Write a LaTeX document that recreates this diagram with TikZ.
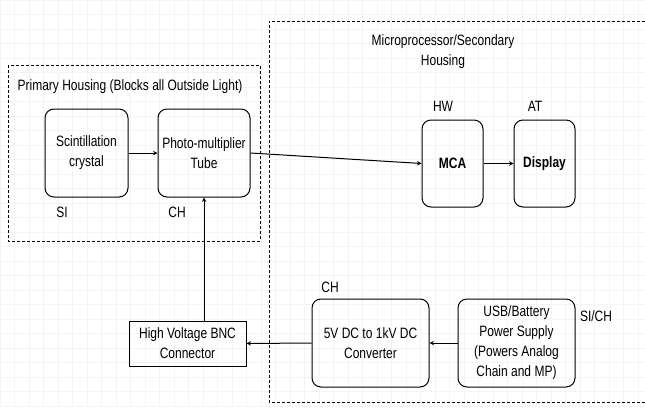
\documentclass[tikz,border=0pt]{standalone}
\usepackage{fontspec}
\setmainfont{Liberation Sans}[FakeStretch=0.8]
\usepackage{xcolor}
\usetikzlibrary{arrows}
\definecolor{gridgray}{gray}{0.955}
\tikzstyle{arrow} = [line width=1pt,->,>=stealth]
\tikzstyle{block} = [draw, line width=1pt, rounded corners=9pt, align=center, inner sep=2pt]
\tikzstyle{housing} = [draw, thin, densely dashed]
\tikzstyle{tag} = [inner sep=0pt, align=center]

\begin{document}
\begin{tikzpicture}[x=1pt,y=-1pt,font=\fontsize{15}{20}\selectfont]
          % basics
          \useasboundingbox (0,0) rectangle (645,407);
          \fill[white] (0,0) rectangle (645,407);
          \draw[gridgray, step=14.5pt] (0,0) grid (645,407);
          % housings
          \draw[housing] (8,65) rectangle (260,241);
          \draw[housing] (645,21) -- (269,21) -- (269,402) -- (645,402);
          \node[tag] (primlabel) at (130,87) {Primary Housing (Blocks all Outside Light)};
          \node[tag] (seclabel) at (443,52) {Microprocessor/Secondary\\Housing};
          % blocks
          \node[block, minimum width=83pt, minimum height=88pt] (crystal) at (86.5,153) {Scintillation\\crystal};
          \node[block, minimum width=92pt, minimum height=88pt] (pmt) at (204,153) {Photo-multiplier\\Tube};
          \node[block, minimum width=61pt, minimum height=87pt, font=\fontsize{15}{20}\selectfont\bfseries] (mca) at (452.5,163.5) {MCA};
          \node[block, minimum width=61pt, minimum height=87pt, font=\fontsize{15}{20}\selectfont\bfseries] (disp) at (544.5,163.5) {Display};
          \node[block, rounded corners=0pt, minimum width=117pt, minimum height=45pt] (bnc) at (187.5,343.5) {High Voltage BNC\\Connector};
          \node[block, minimum width=117pt, minimum height=88pt] (conv) at (370.5,343) {5V DC to 1kV DC\\Converter};
          \node[block, minimum width=117pt, minimum height=88pt] (usb) at (516.5,343) {USB/Battery\\Power Supply\\(Powers Analog\\Chain and MP)};
          % tags
          \node[tag] (sitag) at (62,212) {SI};
          \node[tag] (chtag) at (177,212) {CH};
          \node[tag] (hwtag) at (443,106) {HW};
          \node[tag] (attag) at (535,106) {AT};
          \node[tag] (convtag) at (330,287) {CH};
          \node[tag] (usbtag) at (596,316) {SI/CH};
          % signal chain
          \draw[arrow] (crystal.east) -- (pmt.west);
          \draw[arrow] (pmt.east) -- (mca.west);
          \draw[arrow] (mca.east) -- (disp.west);
          % power
          \draw[arrow] (usb.west) -- (conv.east);
          \draw[arrow] (conv.west) -- (bnc.east);
          \draw[arrow] (bnc.north -| pmt.south) -- (pmt.south);
      \end{tikzpicture}
\end{document}
